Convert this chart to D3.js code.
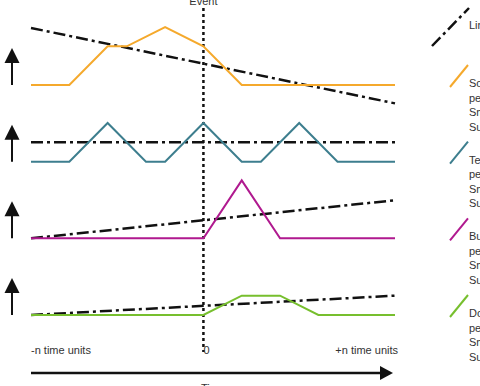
<!DOCTYPE html>
<html><head><meta charset="utf-8">
<script src="https://cdn.jsdelivr.net/npm/d3@7"></script>
<style>body{margin:0;background:#fff}svg{display:block}text{font-family:"Liberation Sans",Arial,sans-serif;fill:#333}</style>
</head><body><div id="chart"></div>
<script>
// ---- data ----
const panels = ["Solitary peak", "Temporal cycle", "Burst", "Double step"];
const colors = ["#f5a92c", "#3d7e8e", "#b0198f", "#77bf2e"];
const orangeT = [-4.5, -3.5, -2.5, -2, -1, 0, 1, 5];
const orangeV = [0, 0, 2, 2, 3, 2, 0, 0];
const tealT = [-4.5, -3.5, -2.5, -1.5, -1, 0, 1, 1.5, 2.5, 3.5, 5];
const tealV = [0, 0, 2, 0, 0, 2, 0, 0, 2, 0, 0];
const magentaT = [-4.5, 0, 1, 2, 5];
const magentaV = [0, 0, 3, 0, 0];
const greenT = [-4.5, 0, 1, 2, 3, 5];
const greenV = [0, 0, 1, 1, 0, 0];
const trendStart = [2.95, 1, 0, 0];
const trendEnd = [-0.95, 1, 1.97, 1];
const legendLines = [
  ["Solitary peak", "period: none", "Smoothing: low", "Sum: high"],
  ["Temporal cycle", "period: 2.5", "Smoothing: low", "Sum: medium"],
  ["Burst after event", "period: none", "Smoothing: low", "Sum: high"],
  ["Double step", "period: none", "Smoothing: low", "Sum: low"]
];
const tickLabels = ["-n time units", "0", "+n time units"];
const eventLabel = "Event", timeLabel = "Time", trendLabel = "Linear trend";

const W = 480, H = 386;
const svg = d3.select("#chart").append("svg").attr("width", W).attr("height", H);

const x = d3.scaleLinear().domain([-4.5, 5]).range([31, 395]);
const panelBase = d3.scaleLinear().domain([0, 3]).range([85, 315]);
const yFor = i => d3.scaleLinear().domain([0, 3]).range([panelBase(i), panelBase(i) - 58]);

const seriesT = [orangeT, tealT, magentaT, greenT];
const seriesV = [orangeV, tealV, magentaV, greenV];
const dash = "12,4,3,4";

// event line
svg.append("line").attr("x1", x(0)).attr("x2", x(0)).attr("y1", 8).attr("y2", 352)
  .attr("stroke", "#111").attr("stroke-width", 2.5).attr("stroke-dasharray", "3,3");
svg.append("text").attr("x", x(0)).attr("y", 5).attr("text-anchor", "middle")
  .attr("font-size", 11).text(eventLabel);

panels.forEach((p, i) => {
  const y = yFor(i);
  const g = svg.append("g");
  // trend
  g.append("line").attr("x1", x(-4.5)).attr("x2", x(5))
    .attr("y1", y(trendStart[i])).attr("y2", y(trendEnd[i]))
    .attr("stroke", "#111").attr("stroke-width", 2.5).attr("stroke-dasharray", dash);
  // series
  const pts = seriesT[i].map((t, k) => [t, seriesV[i][k]]);
  g.append("path").datum(pts)
    .attr("d", d3.line().x(d => x(d[0])).y(d => y(d[1])))
    .attr("fill", "none").attr("stroke", colors[i]).attr("stroke-width", 2);
  // up arrow
  const b = panelBase(i);
  g.append("line").attr("x1", 12).attr("x2", 12).attr("y1", b).attr("y2", b - 24)
    .attr("stroke", "#111").attr("stroke-width", 2);
  g.append("path").attr("d", `M12,${b - 37}L19.5,${b - 22}L4.5,${b - 22}Z`).attr("fill", "#111");
  // legend
  g.append("line").attr("x1", 450).attr("y1", b + 2).attr("x2", 468).attr("y2", b - 20)
    .attr("stroke", colors[i]).attr("stroke-width", 2);
  legendLines[i].forEach((s, k) => {
    g.append("text").attr("x", 469).attr("y", b + 2 + k * 14.5).attr("font-size", 11).text(s);
  });
});

// linear trend legend
svg.append("line").attr("x1", 432).attr("y1", 46).attr("x2", 469).attr("y2", 8)
  .attr("stroke", "#111").attr("stroke-width", 2.5).attr("stroke-dasharray", dash);
svg.append("text").attr("x", 469).attr("y", 29).attr("font-size", 11).text(trendLabel);

// tick labels
svg.append("text").attr("x", x(-4.5)).attr("y", 354).attr("font-size", 11).text(tickLabels[0]);
svg.append("text").attr("x", x(0)).attr("y", 354).attr("font-size", 11).text(tickLabels[1]);
svg.append("text").attr("x", 398).attr("y", 354).attr("text-anchor", "end").attr("font-size", 11).text(tickLabels[2]);

// time arrow
svg.append("line").attr("x1", x(-4.5)).attr("x2", 382).attr("y1", 373).attr("y2", 373)
  .attr("stroke", "#111").attr("stroke-width", 2.5);
svg.append("path").attr("d", "M393,373L380,366L380,380Z").attr("fill", "#111");
svg.append("text").attr("x", 213).attr("y", 392).attr("text-anchor", "middle").attr("font-size", 11).text(timeLabel);
</script></body></html>
